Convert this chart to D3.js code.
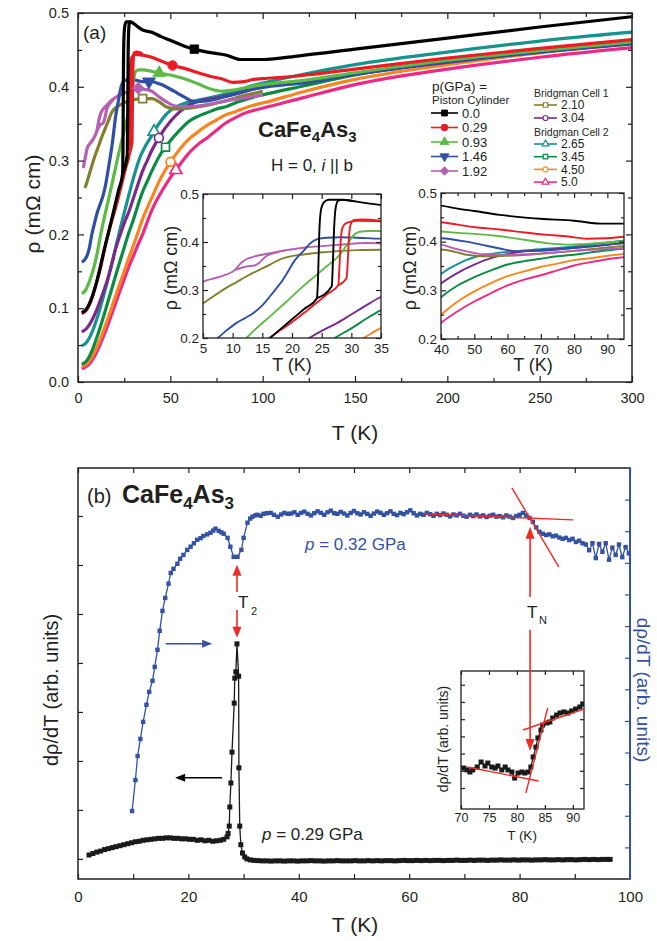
<!DOCTYPE html>
<html><head><meta charset="utf-8">
<script src="https://cdn.jsdelivr.net/npm/d3@7"></script>
<style>
body{margin:0;background:#fff;}
svg{display:block;}
</style></head><body>
<svg id="chart" width="657" height="941"></svg>
<script>
const FONT = '"Liberation Sans", Arial, Helvetica, sans-serif';
const INK = "#231f20";

// ---------- Panel (a): resistivity rho(T) in mOhm cm ----------
const pressureLabels = ["0.0","0.29","0.93","1.46","1.92","2.10","3.04","2.65","3.45","4.50","5.0"];

const rho000 = [[2,0.094],[4,0.097],[6,0.105],[8,0.118],[10,0.135],[12,0.155],[14,0.177],[16.3,0.2],[18,0.218],[20,0.239],[22,0.26],[24.2,0.283],[24.4,0.33],[24.6,0.42],[24.9,0.468],[25.4,0.483],[26.2,0.488],[28,0.488],[30,0.486],[32,0.482],[35,0.477],[40,0.474],[45,0.468],[50,0.463],[57.7,0.455],[63,0.451],[70,0.447],[80,0.443],[88,0.437],[95,0.437],[100,0.437],[120,0.442],[150,0.451],[200,0.466],[250,0.481],[300,0.495]];
const rho000up = [[24.2,0.283],[26.7,0.308],[26.9,0.36],[27.1,0.43],[27.4,0.474],[27.8,0.486],[28.5,0.488],[30,0.486]];
const rho029 = [[2,0.093],[4,0.096],[6,0.104],[8,0.117],[10,0.134],[12,0.153],[14,0.176],[16.2,0.2],[18,0.216],[20,0.233],[22,0.252],[24,0.272],[26,0.292],[27.8,0.31],[28.0,0.35],[28.2,0.4],[28.4,0.425],[28.8,0.436],[29.5,0.441],[31,0.444],[35,0.443],[40,0.44],[45,0.435],[51,0.429],[57.7,0.425],[65,0.419],[72,0.414],[77.8,0.411],[83.8,0.406],[90,0.407],[95,0.41],[100,0.411],[120,0.415],[150,0.424],[200,0.439],[250,0.452],[300,0.464]];
const rho029up = [[27.8,0.31],[29.2,0.325],[29.4,0.36],[29.6,0.41],[29.9,0.437],[30.5,0.446],[32,0.447],[35,0.444]];
const rho093 = [[2,0.12],[4,0.124],[6,0.135],[8,0.15],[10,0.17],[12.3,0.2],[14,0.22],[16.3,0.245],[19,0.275],[21.9,0.308],[24,0.33],[25.9,0.35],[28.1,0.374],[29.3,0.395],[30.3,0.413],[31.3,0.421],[33,0.423],[35,0.423],[40,0.421],[45,0.418],[50,0.416],[57.7,0.411],[65,0.404],[71.8,0.397],[77.8,0.394],[85,0.396],[95,0.401],[100,0.403],[120,0.408],[150,0.419],[200,0.436],[250,0.449],[300,0.461]];
const rho146 = [[2,0.163],[3,0.164],[4,0.167],[5,0.172],[6,0.18],[7.5,0.2],[9,0.216],[10.6,0.231],[12,0.241],[13.5,0.252],[15,0.268],[16.3,0.287],[17.4,0.304],[18.5,0.322],[19.4,0.34],[20.2,0.357],[21.1,0.371],[21.9,0.381],[22.8,0.394],[23.6,0.402],[24.6,0.407],[25.9,0.409],[28,0.41],[31,0.409],[35,0.407],[40,0.407],[44,0.404],[47.7,0.4],[52,0.394],[57.7,0.386],[62.7,0.38],[70,0.381],[80,0.387],[90,0.394],[95,0.397],[100,0.399],[120,0.405],[150,0.417],[200,0.434],[250,0.447],[300,0.459]];
const rho192 = [[2.9,0.29],[4,0.305],[5,0.317],[6.5,0.323],[8.4,0.33],[10.4,0.342],[11.3,0.355],[12.3,0.364],[13.7,0.37],[15.2,0.374],[18,0.381],[21.9,0.388],[27.6,0.394],[32.6,0.398],[35,0.397],[40,0.394],[44,0.386],[47.7,0.38],[52.7,0.374],[60,0.373],[70,0.376],[80,0.381],[90,0.385],[95,0.387],[100,0.389]];
const rho192up = [[10.4,0.342],[12.3,0.349],[13.7,0.351],[14.6,0.358],[15.7,0.371],[17.4,0.378],[19,0.383]];
const rho210 = [[3.8,0.263],[5,0.272],[7,0.289],[9,0.305],[10.6,0.316],[12,0.326],[13.5,0.336],[15,0.345],[16.3,0.353],[18,0.364],[19.7,0.37],[21.9,0.374],[24.7,0.378],[27.6,0.381],[31,0.383],[35,0.384],[40,0.384],[44.3,0.379],[47.7,0.373],[52.7,0.37],[60,0.371],[70,0.375],[80,0.381],[90,0.388],[95,0.391],[100,0.394]];
const rho304 = [[2,0.068],[4,0.071],[6,0.077],[8,0.086],[10,0.097],[12,0.11],[14,0.124],[16,0.139],[18,0.157],[20,0.177],[22.9,0.2],[25,0.215],[27.6,0.231],[30,0.249],[32.5,0.268],[35,0.286],[37.5,0.3],[40,0.314],[45,0.336],[50,0.353],[55,0.366],[60,0.375],[65,0.38],[75,0.385],[85,0.39],[95,0.397],[100,0.4],[120,0.405],[150,0.417],[200,0.433],[250,0.447],[300,0.458]];
const rho265 = [[2,0.049],[4,0.052],[6,0.059],[8,0.07],[10,0.084],[12,0.1],[14,0.118],[16,0.137],[18,0.157],[20,0.178],[22,0.199],[25,0.229],[28,0.258],[31,0.285],[34,0.307],[37,0.322],[40,0.334],[42.5,0.345],[45,0.354],[47.5,0.362],[50,0.368],[55,0.375],[65,0.382],[75,0.387],[85,0.394],[95,0.402],[100,0.405],[120,0.416],[150,0.43],[200,0.447],[250,0.462],[300,0.474]];
const rho345 = [[2,0.024],[4,0.027],[6,0.034],[8,0.045],[10,0.059],[12,0.074],[14,0.09],[16,0.107],[18,0.124],[20,0.141],[22.5,0.162],[25,0.182],[27.2,0.2],[30,0.22],[32.5,0.24],[35,0.258],[37.5,0.272],[40,0.286],[45,0.31],[50,0.327],[55,0.341],[60,0.353],[65,0.36],[70,0.365],[75,0.37],[80,0.373],[85,0.378],[90,0.382],[95,0.386],[100,0.389],[120,0.4],[150,0.416],[200,0.435],[250,0.45],[300,0.461]];
const rho450 = [[2,0.021],[4,0.023],[6,0.028],[8,0.036],[10,0.046],[12,0.058],[14,0.071],[16,0.085],[18,0.099],[20,0.114],[22.5,0.132],[25,0.15],[27.5,0.168],[30,0.185],[32.1,0.2],[35,0.221],[37.5,0.236],[40,0.25],[45,0.277],[50,0.298],[55,0.315],[60,0.329],[65,0.339],[70,0.348],[75,0.355],[80,0.362],[85,0.366],[90,0.371],[95,0.375],[100,0.378],[120,0.392],[150,0.41],[200,0.43],[250,0.446],[300,0.458]];
const rho500 = [[2,0.018],[4,0.02],[6,0.024],[8,0.031],[10,0.04],[12,0.051],[14,0.063],[16,0.076],[18,0.09],[20,0.104],[22.5,0.122],[25,0.139],[27.5,0.156],[30,0.171],[32.5,0.186],[35,0.2],[37.5,0.217],[40,0.233],[45,0.257],[50,0.277],[55,0.294],[60,0.31],[65,0.322],[70,0.331],[75,0.341],[80,0.351],[85,0.358],[90,0.364],[95,0.368],[100,0.371],[120,0.384],[150,0.403],[200,0.424],[250,0.44],[300,0.453]];

const seriesA = [rho000, rho029, rho093, rho146, rho192, rho210, rho304, rho265, rho345, rho450, rho500];
const extraBranches = [[0, rho000up], [1, rho029up], [4, rho192up]];
const markerT = [63, 51.2, 44, 38.4, 32.6, 35, 43.8, 41.2, 47.4, 50.1, 53];
const inset1Hidden = [7];

const xTicksA = [0, 50, 100, 150, 200, 250, 300];
const yTicksA = [0, 0.1, 0.2, 0.3, 0.4, 0.5];

const styleA = [
  {color:"#000000", sym:"square",  fill:true},
  {color:"#ed1c24", sym:"circle",  fill:true},
  {color:"#5dba47", sym:"triangle",fill:true},
  {color:"#2e4fa3", sym:"tridown", fill:true},
  {color:"#b660b3", sym:"diamond", fill:true},
  {color:"#808030", sym:"square",  fill:false},
  {color:"#7b2a8c", sym:"circle",  fill:false},
  {color:"#16928f", sym:"triangle",fill:false},
  {color:"#0b8b43", sym:"square",  fill:false},
  {color:"#f7861f", sym:"circle",  fill:false},
  {color:"#ec2a86", sym:"triangle",fill:false}
];

// ---------- Panel (b): d rho / dT ----------
// p = 0.29 GPa, left axis (arb. units)
const drdt029 = [[2.0,0.08],[2.7,0.11],[3.4,0.14],[4.1,0.16],[4.8,0.19],[5.5,0.21],[6.2,0.23],[6.9,0.25],[7.6,0.27],[8.3,0.29],[9.0,0.31],[9.7,0.33],[10.4,0.35],[11.1,0.36],[11.8,0.38],[12.5,0.39],[13.2,0.40],[13.9,0.41],[14.6,0.42],[15.3,0.42],[16.0,0.43],[16.7,0.43],[17.4,0.42],[18.1,0.42],[18.8,0.41],[19.5,0.41],[20.2,0.40],[20.9,0.40],[21.6,0.38],[22.3,0.39],[23.0,0.37],[23.7,0.38],[24.4,0.36],[25.1,0.37],[25.8,0.38],[26.4,0.40],[27.0,0.45],[27.2,0.52],[27.4,0.67],[27.5,1.06],[27.7,1.55],[27.9,2.18],[28.3,3.18],[28.4,3.69],[28.6,3.82],[28.8,4.39],[29.1,3.73],[29.15,1.86],[29.3,0.67],[29.5,0.29],[29.8,0.12],[30.2,0.04],[30.6,0.0],[31.2,-0.02],[31.9,-0.03],[32.6,-0.035],[33.4,-0.04],[34.2,-0.04],[35.0,-0.045],[35.8,-0.04],[36.6,-0.04],[37.4,-0.045],[38.2,-0.04],[39.0,-0.04],[39.8,-0.045],[40.6,-0.04],[41.4,-0.04],[42.2,-0.035],[43.0,-0.04],[43.8,-0.04],[44.6,-0.045],[45.4,-0.04],[46.2,-0.04],[47.0,-0.035],[47.8,-0.04],[48.6,-0.04],[49.4,-0.04],[50.2,-0.035],[51.0,-0.04],[51.8,-0.04],[52.6,-0.035],[53.4,-0.04],[54.2,-0.035],[55.0,-0.04],[55.8,-0.035],[56.6,-0.035],[57.4,-0.04],[58.2,-0.035],[59.0,-0.03],[59.8,-0.035],[60.6,-0.035],[61.4,-0.03],[62.2,-0.035],[63.0,-0.03],[63.8,-0.035],[64.6,-0.03],[65.4,-0.03],[66.2,-0.035],[67.0,-0.03],[67.8,-0.03],[68.6,-0.025],[69.4,-0.03],[70.2,-0.03],[71.0,-0.025],[71.8,-0.03],[72.6,-0.025],[73.4,-0.025],[74.2,-0.03],[75.0,-0.025],[75.8,-0.025],[76.6,-0.02],[77.4,-0.025],[78.2,-0.025],[79.0,-0.02],[79.8,-0.025],[80.6,-0.02],[81.4,-0.02],[82.2,-0.025],[83.0,-0.02],[83.8,-0.02],[84.6,-0.015],[85.4,-0.02],[86.2,-0.02],[87.0,-0.015],[87.8,-0.02],[88.6,-0.015],[89.4,-0.015],[90.2,-0.02],[91.0,-0.015],[91.8,-0.01],[92.6,-0.015],[93.4,-0.01],[94.2,-0.015],[95.0,-0.01],[95.8,-0.01],[96.4,-0.01]];
// p = 0.32 GPa, right axis (arb. units)
const drdt032 = [[9.8,2.15],[10.4,3.13],[10.8,3.89],[11.3,4.43],[11.8,4.97],[12.4,5.51],[12.9,5.92],[13.5,6.27],[13.9,6.71],[14.4,7.25],[14.8,7.85],[15.3,8.48],[15.8,8.89],[16.4,9.34],[16.8,9.68],[17.3,9.81],[18.0,9.97],[18.5,10.13],[19.1,10.25],[19.8,10.41],[20.4,10.51],[21.0,10.62],[21.6,10.73],[22.2,10.78],[22.7,10.85],[23.4,10.90],[24.0,10.95],[24.5,11.02],[24.9,11.08],[25.5,11.01],[26.0,10.96],[26.4,10.92],[27.1,10.79],[27.6,10.51],[28.2,10.19],[28.9,10.19],[29.6,10.41],[30.0,10.79],[30.7,11.27],[31.2,11.40],[31.6,11.46],[32.1,11.50],[32.5,11.52],[33.1,11.49],[33.6,11.55],[34.2,11.57],[34.9,11.58],[35.5,11.52],[36.2,11.46],[36.8,11.53],[37.4,11.58],[38.0,11.55],[38.6,11.56],[39.2,11.60],[39.8,11.52],[40.4,11.58],[41.0,11.62],[41.6,11.55],[42.2,11.50],[42.8,11.57],[43.4,11.63],[44.0,11.58],[44.6,11.52],[45.2,11.60],[45.8,11.65],[46.4,11.57],[47.0,11.55],[47.6,11.61],[48.2,11.56],[48.8,11.50],[49.4,11.58],[50.0,11.64],[50.6,11.57],[51.2,11.53],[51.8,11.60],[52.4,11.55],[53.0,11.49],[53.6,11.56],[54.2,11.62],[54.8,11.58],[55.4,11.52],[56.0,11.57],[56.6,11.63],[57.2,11.55],[57.8,11.51],[58.4,11.58],[59.0,11.54],[59.6,11.60],[60.2,11.66],[60.8,11.57],[61.4,11.50],[62.0,11.55],[62.6,11.52],[63.2,11.58],[63.8,11.54],[64.4,11.49],[65.0,11.55],[65.6,11.51],[66.2,11.56],[66.8,11.52],[67.4,11.47],[68.0,11.53],[68.6,11.50],[69.2,11.55],[69.8,11.49],[70.4,11.46],[71.0,11.52],[71.6,11.48],[72.2,11.53],[72.8,11.47],[73.4,11.50],[74.0,11.45],[74.6,11.49],[75.2,11.52],[75.8,11.46],[76.4,11.48],[77.0,11.44],[77.6,11.50],[78.2,11.46],[78.8,11.42],[79.4,11.48],[80.0,11.52],[80.6,11.58],[81.2,11.50],[81.8,11.42],[82.4,11.30],[83.0,11.12],[83.6,10.98],[84.2,10.92],[84.8,10.88],[85.4,10.90],[86.0,10.84],[86.6,10.86],[87.2,10.80],[87.8,10.76],[88.4,10.79],[89.0,10.72],[89.6,10.76],[90.2,10.66],[90.8,10.70],[91.4,10.62],[92.0,10.58],[92.6,10.40],[93.2,10.62],[93.8,10.15],[94.4,10.60],[95.0,10.35],[95.6,10.62],[96.2,10.10],[96.8,10.48],[97.4,10.25],[98.0,10.58],[98.6,10.18],[99.2,10.50],[99.8,10.30]];
// linear fits that locate T_N on the 0.32 GPa curve
const fitsMain = [[[62.7,11.55],[89.7,11.36]], [[78.6,12.37],[87.1,9.87]]];

// inset: d rho / dT around T_N
const drdtInset = [[70.5,1.16],[71.1,1.05],[71.6,0.93],[72.1,1.05],[72.9,1.22],[73.6,1.51],[74.3,1.28],[74.8,1.45],[75.5,1.22],[76.1,1.16],[76.6,1.28],[77.3,1.05],[77.9,1.22],[78.4,1.05],[79.1,0.93],[79.6,0.58],[80.2,0.87],[80.9,0.93],[81.4,0.87],[82.0,0.93],[82.5,1.22],[82.9,1.80],[83.4,2.38],[83.75,2.91],[84.3,3.37],[84.6,3.66],[85.4,3.78],[85.9,3.84],[86.4,4.07],[87.1,4.24],[87.7,4.36],[88.4,4.42],[89.1,4.36],[89.8,4.48],[90.5,4.59],[91.25,4.71],[91.8,4.88]];
const fitsInset = [[[71.1,1.22],[83.9,0.41]], [[81.6,-0.29],[85.5,4.65]], [[81.1,3.37],[92,4.59]]];

const xTicksB = [0, 20, 40, 60, 80, 100];
const xTicksInsetB = [70, 75, 80, 85, 90];

const T2 = 28.8, TN = 81.9;

// ---------- drawing helpers ----------
const svg = d3.select("#chart");
let clipId = 0;

function axisSet(g, gen, tr, vals, size, fmt, pad, fs, col, sw) {
  const a = g.append("g").attr("transform", tr)
    .call(gen.tickValues(vals).tickSize(size).tickPadding(pad).tickFormat(fmt));
  a.select(".domain").remove();
  a.attr("font-family", null).attr("font-size", null);
  a.selectAll("line").attr("stroke", col).attr("stroke-width", sw);
  a.selectAll("text").attr("font-size", fs).attr("font-family", FONT).attr("fill", INK);
  return a;
}
const blank = () => "";

function frame(g, x, y, c) {
  const [xa, xb] = x.range();
  const yb = y.range()[0], yt = y.range()[1];
  const col = c.color || INK, sw = c.tw || 1.2;
  axisSet(g, d3.axisBottom(x), `translate(0,${yb})`, c.xMajor, -c.maj, c.xFmt || blank, c.xPad || 0, c.fs, col, sw);
  axisSet(g, d3.axisTop(x), `translate(0,${yt})`, c.xMajor, -c.maj, blank, 0, c.fs, col, sw);
  if (c.xMinor) {
    axisSet(g, d3.axisBottom(x), `translate(0,${yb})`, c.xMinor, -c.min, blank, 0, c.fs, col, sw);
    axisSet(g, d3.axisTop(x), `translate(0,${yt})`, c.xMinor, -c.min, blank, 0, c.fs, col, sw);
  }
  axisSet(g, d3.axisLeft(y), `translate(${xa},0)`, c.yMajor, -c.maj, c.yFmt || blank, c.yPad || 0, c.fs, col, sw);
  if (c.yMinor) axisSet(g, d3.axisLeft(y), `translate(${xa},0)`, c.yMinor, -c.min, blank, 0, c.fs, col, sw);
  if (!c.noRight) {
    axisSet(g, d3.axisRight(y), `translate(${xb},0)`, c.yMajor, -c.maj, blank, 0, c.fs, col, sw);
    if (c.yMinor) axisSet(g, d3.axisRight(y), `translate(${xb},0)`, c.yMinor, -c.min, blank, 0, c.fs, col, sw);
  }
  g.append("rect").attr("x", xa).attr("y", yt).attr("width", xb - xa).attr("height", yb - yt)
    .attr("fill", "none").attr("stroke", col).attr("stroke-width", c.bw || 1.5);
}

function clipFor(g, x, y) {
  const id = "clip" + (clipId++);
  const [xa, xb] = x.range(); const yb = y.range()[0], yt = y.range()[1];
  g.append("clipPath").attr("id", id).append("rect")
    .attr("x", xa).attr("y", yt).attr("width", xb - xa).attr("height", yb - yt);
  return `url(#${id})`;
}

function symbolPath(kind, size) {
  const type = {square:d3.symbolSquare, circle:d3.symbolCircle, triangle:d3.symbolTriangle,
                tridown:d3.symbolTriangle, diamond:d3.symbolSquare}[kind];
  return d3.symbol(type, size)();
}
function symbolRot(kind) { return kind === "tridown" ? 180 : kind === "diamond" ? 45 : 0; }

function drawMarker(g, cx, cy, st, size, sw) {
  g.append("path").attr("d", symbolPath(st.sym, size))
    .attr("transform", `translate(${cx},${cy}) rotate(${symbolRot(st.sym)})`)
    .attr("fill", st.fill ? st.color : "#fff")
    .attr("stroke", st.color).attr("stroke-width", st.fill ? 0.8 : sw);
}

function interp(series, t) {
  for (let i = 1; i < series.length; i++) {
    const [t0, v0] = series[i - 1], [t1, v1] = series[i];
    if (t >= t0 && t <= t1) return v0 + (v1 - v0) * (t - t0) / (t1 - t0);
  }
  return series[series.length - 1][1];
}

function arrowHead(g, x, y, dir, len, half, col) {
  // dir: "up","down","left","right"; (x,y) is the tip
  let pts;
  if (dir === "up") pts = [[x, y], [x - half, y + len], [x + half, y + len]];
  if (dir === "down") pts = [[x, y], [x - half, y - len], [x + half, y - len]];
  if (dir === "left") pts = [[x, y], [x + len, y - half], [x + len, y + half]];
  if (dir === "right") pts = [[x, y], [x - len, y - half], [x - len, y + half]];
  g.append("path").attr("d", d3.line()(pts) + "Z").attr("fill", col);
}

function addText(g, x, y, str, o = {}) {
  const t = g.append("text").attr("x", x).attr("y", y).text(str)
    .attr("font-family", FONT).attr("font-size", o.fs || 14).attr("fill", o.fill || INK)
    .attr("text-anchor", o.anchor || "start");
  if (o.weight) t.attr("font-weight", o.weight);
  if (o.style) t.attr("font-style", o.style);
  if (o.rotate != null) t.attr("transform", `rotate(${o.rotate},${x},${y})`);
  return t;
}

// ================= PANEL (a) =================
const gA = svg.append("g");
const xA = d3.scaleLinear([0, 300], [78, 632]);
const yA = d3.scaleLinear([0, 0.5], [382, 13]);
const lineA = (x, y) => d3.line().curve(d3.curveMonotoneX).x(d => x(d[0])).y(d => y(d[1]));

const clipA = clipFor(gA, xA, yA);
const curvesA = gA.append("g").attr("clip-path", clipA);
const order = [10, 9, 8, 7, 6, 5, 4, 3, 2, 1, 0];
order.forEach(i => {
  curvesA.append("path").attr("d", lineA(xA, yA)(seriesA[i]))
    .attr("fill", "none").attr("stroke", styleA[i].color).attr("stroke-width", 3.2)
    .attr("stroke-linejoin", "round");
});
extraBranches.forEach(([i, s]) => {
  curvesA.append("path").attr("d", lineA(xA, yA)(s))
    .attr("fill", "none").attr("stroke", styleA[i].color).attr("stroke-width", 3.2);
});
order.forEach(i => {
  const t = markerT[i];
  drawMarker(curvesA, xA(t), yA(interp(seriesA[i], t)), styleA[i],
             styleA[i].fill ? 72 : 62, 1.7);
});

frame(gA, xA, yA, {
  xMajor: xTicksA, xMinor: [25, 75, 125, 175, 225, 275],
  yMajor: yTicksA, yMinor: [0.05, 0.15, 0.25, 0.35, 0.45],
  xFmt: d3.format("d"), yFmt: d3.format(".1f"),
  maj: 6, min: 4, xPad: 11, yPad: 9, fs: 14.5
});
addText(gA, 355, 440, "T (K)", {fs: 21, anchor: "middle"});
addText(gA, 40, 204, "ρ (mΩ cm)", {fs: 21, anchor: "middle", rotate: -90});
addText(gA, 83, 39, "(a)", {fs: 19});

// compound title
const tA = gA.append("text").attr("x", 258).attr("y", 137).attr("font-family", FONT)
  .attr("font-weight", "bold").attr("font-size", 22).attr("fill", INK);
tA.append("tspan").text("CaFe");
tA.append("tspan").text("4").attr("font-size", 15).attr("dy", 5);
tA.append("tspan").text("As").attr("dy", -5);
tA.append("tspan").text("3").attr("font-size", 15).attr("dy", 5);

const tH = gA.append("text").attr("x", 271).attr("y", 171).attr("font-family", FONT)
  .attr("font-size", 17).attr("fill", INK);
tH.append("tspan").text("H = 0, ");
tH.append("tspan").text("i").attr("font-style", "italic");
tH.append("tspan").text(" || b");

// legend
const gL = gA.append("g");
addText(gL, 432, 91, "p(GPa) =", {fs: 13.5});
addText(gL, 432, 104, "Piston Cylinder", {fs: 11.5});
addText(gL, 534, 97, "Bridgman Cell 1", {fs: 10.5});
addText(gL, 534, 136, "Bridgman Cell 2", {fs: 10.5});
function legendEntry(i, x0, x1, y, fs, msize) {
  gL.append("line").attr("x1", x0).attr("x2", x1).attr("y1", y).attr("y2", y)
    .attr("stroke", styleA[i].color).attr("stroke-width", 1.6);
  drawMarker(gL, (x0 + x1) / 2, y, styleA[i], msize, 1.2);
  addText(gL, x1 + 4, y + fs * 0.36, pressureLabels[i], {fs: fs});
}
[0, 1, 2, 3, 4].forEach((i, k) => legendEntry(i, 431, 458, 113 + k * 14.5, 13, 36));
[5, 6].forEach((i, k) => legendEntry(i, 534, 557, 105 + k * 13, 12, 20));
[7, 8, 9, 10].forEach((i, k) => legendEntry(i, 534, 557, 144 + k * 12.7, 12, 20));

// insets
function drawInset(xDom, xRange, yRange, xMajor, xMinor, hidden, labelX, labelXT) {
  const g = gA.append("g");
  const x = d3.scaleLinear(xDom, xRange);
  const y = d3.scaleLinear([0.2, 0.5], yRange);
  g.append("rect").attr("x", xRange[0]).attr("y", yRange[1])
    .attr("width", xRange[1] - xRange[0]).attr("height", yRange[0] - yRange[1]).attr("fill", "#fff");
  const cg = g.append("g").attr("clip-path", clipFor(g, x, y));
  order.forEach(i => {
    if (hidden.includes(i)) return;
    cg.append("path").attr("d", lineA(x, y)(seriesA[i]))
      .attr("fill", "none").attr("stroke", styleA[i].color).attr("stroke-width", 1.9);
  });
  extraBranches.forEach(([i, s]) => {
    cg.append("path").attr("d", lineA(x, y)(s))
      .attr("fill", "none").attr("stroke", styleA[i].color).attr("stroke-width", 1.9);
  });
  frame(g, x, y, {
    xMajor: xMajor, xMinor: xMinor, yMajor: [0.2, 0.3, 0.4, 0.5], yMinor: [0.25, 0.35, 0.45],
    xFmt: d3.format("d"), yFmt: d3.format(".1f"), maj: 5, min: 3, xPad: 5, yPad: 4, fs: 13.5, bw: 1.3
  });
  addText(g, labelXT, 371, "T (K)", {fs: 18, anchor: "middle"});
  addText(g, labelX, 268, "ρ (mΩ cm)", {fs: 18, anchor: "middle", rotate: -90});
}
drawInset([5, 35], [203, 381], [338, 194], [5, 10, 15, 20, 25, 30, 35], null, inset1Hidden, 177, 292);
drawInset([40, 95], [441, 624], [339, 193], [40, 50, 60, 70, 80, 90], [45, 55, 65, 75, 85], [], 416, 533);

// ================= PANEL (b) =================
const gB = svg.append("g");
const xB = d3.scaleLinear([0, 100], [78, 630]);
const yL = d3.scaleLinear([-0.41, 7.98], [879, 468]);
const yR = d3.scaleLinear([0, 13], [879, 468]);
const BLUE = "#3452a4", RED = "#ee2b24";

frame(gB, xB, yL, {
  xMajor: xTicksB, xMinor: [10, 30, 50, 70, 90], yMajor: [0, 1, 2, 3, 4, 5, 6, 7],
  xFmt: d3.format("d"), maj: 5, min: 5, xPad: 12, fs: 15, noRight: true
});
axisSet(gB, d3.axisRight(yR), `translate(630,0)`, d3.range(1, 13), -5, blank, 0, 15, BLUE, 1.2);
gB.append("line").attr("x1", 630).attr("x2", 630).attr("y1", 468).attr("y2", 879)
  .attr("stroke", BLUE).attr("stroke-width", 2);

addText(gB, 355, 932, "T (K)", {fs: 21, anchor: "middle"});
addText(gB, 58, 690, "dρ/dT (arb. units)", {fs: 20, anchor: "middle", rotate: -90});
addText(gB, 637, 690, "dρ/dT (arb. units)", {fs: 19, anchor: "middle", rotate: 90, fill: BLUE});

const tB = gB.append("text").attr("x", 87).attr("y", 503).attr("font-family", FONT).attr("fill", INK);
tB.append("tspan").text("(b) ").attr("font-size", 20);
tB.append("tspan").text("CaFe").attr("font-size", 25).attr("font-weight", "bold").attr("x", 122);
tB.append("tspan").text("4").attr("font-size", 17).attr("font-weight", "bold").attr("dy", 6);
tB.append("tspan").text("As").attr("font-size", 25).attr("font-weight", "bold").attr("dy", -6);
tB.append("tspan").text("3").attr("font-size", 17).attr("font-weight", "bold").attr("dy", 6);

const clipB = clipFor(gB, xB, yL);
const dataB = gB.append("g").attr("clip-path", clipB);
const lineB = (y) => d3.line().x(d => xB(d[0])).y(d => y(d[1]));

// black: 0.29 GPa
dataB.append("path").attr("d", lineB(yL)(drdt029)).attr("fill", "none")
  .attr("stroke", "#1a1a1a").attr("stroke-width", 1.3);
dataB.selectAll("rect.k").data(drdt029).join("rect").attr("class", "k")
  .attr("x", d => xB(d[0]) - 2.5).attr("y", d => yL(d[1]) - 2.5)
  .attr("width", 5).attr("height", 5).attr("fill", "#1a1a1a");

// blue: 0.32 GPa
dataB.append("path").attr("d", lineB(yR)(drdt032)).attr("fill", "none")
  .attr("stroke", BLUE).attr("stroke-width", 1.3);
dataB.selectAll("rect.b").data(drdt032).join("rect").attr("class", "b")
  .attr("x", d => xB(d[0]) - 2.2).attr("y", d => yR(d[1]) - 2.2)
  .attr("width", 4.4).attr("height", 4.4).attr("fill", BLUE);

fitsMain.forEach(f => {
  gB.append("path").attr("d", lineB(yR)(f)).attr("stroke", RED).attr("stroke-width", 1.4).attr("fill", "none");
});

addText(gB, 305, 550, "", {fs: 17, fill: BLUE}).call(t => {
  t.append("tspan").text("p").attr("font-style", "italic");
  t.append("tspan").text(" = 0.32 GPa");
});
addText(gB, 262, 840, "", {fs: 17}).call(t => {
  t.append("tspan").text("p").attr("font-style", "italic");
  t.append("tspan").text(" = 0.29 GPa");
});

// T2 arrows
const ax2 = xB(T2);
gB.append("line").attr("x1", ax2).attr("x2", ax2).attr("y1", yR(9.6)).attr("y2", yR(9.08))
  .attr("stroke", RED).attr("stroke-width", 1.6);
arrowHead(gB, ax2, yR(9.94), "up", 11, 4.5, RED);
gB.append("line").attr("x1", ax2).attr("x2", ax2).attr("y1", yR(8.51)).attr("y2", yR(7.95))
  .attr("stroke", RED).attr("stroke-width", 1.6);
arrowHead(gB, ax2, yR(7.63), "down", 11, 4.5, RED);
addText(gB, ax2 + 1, yR(8.58), "T", {fs: 17});
addText(gB, ax2 + 14, yR(8.36), "2", {fs: 11});

// T_N arrow
const axN = xB(TN);
gB.append("line").attr("x1", axN).attr("x2", axN).attr("y1", yR(10.8)).attr("y2", yR(8.92))
  .attr("stroke", RED).attr("stroke-width", 1.6);
arrowHead(gB, axN, yR(11.14), "up", 12, 4.5, RED);
addText(gB, axN - 3, yR(8.27), "T", {fs: 17});
addText(gB, axN + 9, yR(8.05), "N", {fs: 11});

// direction arrows
gB.append("line").attr("x1", xB(15.9)).attr("x2", xB(23.0)).attr("y1", yR(7.44)).attr("y2", yR(7.44))
  .attr("stroke", BLUE).attr("stroke-width", 1.5);
arrowHead(gB, xB(24.3), yR(7.44), "right", 10, 4, BLUE);
gB.append("line").attr("x1", xB(26.1)).attr("x2", xB(18.9)).attr("y1", yR(3.2)).attr("y2", yR(3.2))
  .attr("stroke", "#000").attr("stroke-width", 1.5);
arrowHead(gB, xB(17.6), yR(3.2), "left", 10, 4, "#000");

// inset in panel (b)
const gI = gB.append("g");
const xI = d3.scaleLinear([70, 92], [461, 584]);
const yI = d3.scaleLinear([-1.22, 6.8], [809, 671]);
gI.append("rect").attr("x", 461).attr("y", 671).attr("width", 123).attr("height", 138).attr("fill", "#fff");
frame(gI, xI, yI, {
  xMajor: xTicksInsetB, yMajor: [0, 1, 2, 3, 4, 5, 6],
  xFmt: d3.format("d"), maj: 4, min: 3, xPad: 4, fs: 12.5, bw: 1.3
});
const cI = gI.append("g").attr("clip-path", clipFor(gI, xI, yI));
const lineI = d3.line().x(d => xI(d[0])).y(d => yI(d[1]));
cI.append("path").attr("d", lineI(drdtInset)).attr("fill", "none").attr("stroke", "#1a1a1a").attr("stroke-width", 1.2);
cI.selectAll("rect").data(drdtInset).join("rect")
  .attr("x", d => xI(d[0]) - 2.5).attr("y", d => yI(d[1]) - 2.5)
  .attr("width", 5).attr("height", 5).attr("fill", "#1a1a1a");
fitsInset.forEach(f => {
  cI.append("path").attr("d", lineI(f)).attr("stroke", RED).attr("stroke-width", 1.4).attr("fill", "none");
});
// T_N line continues down into the inset
gB.append("line").attr("x1", axN).attr("x2", axN).attr("y1", yR(7.88)).attr("y2", yR(4.35))
  .attr("stroke", RED).attr("stroke-width", 1.6);
arrowHead(gB, axN, yR(4.05), "down", 12, 4.5, RED);
addText(gI, 522, 840, "T (K)", {fs: 13.5, anchor: "middle"});
addText(gI, 448, 739, "dρ/dT (arb. units)", {fs: 14, anchor: "middle", rotate: -90});
</script></body></html>
